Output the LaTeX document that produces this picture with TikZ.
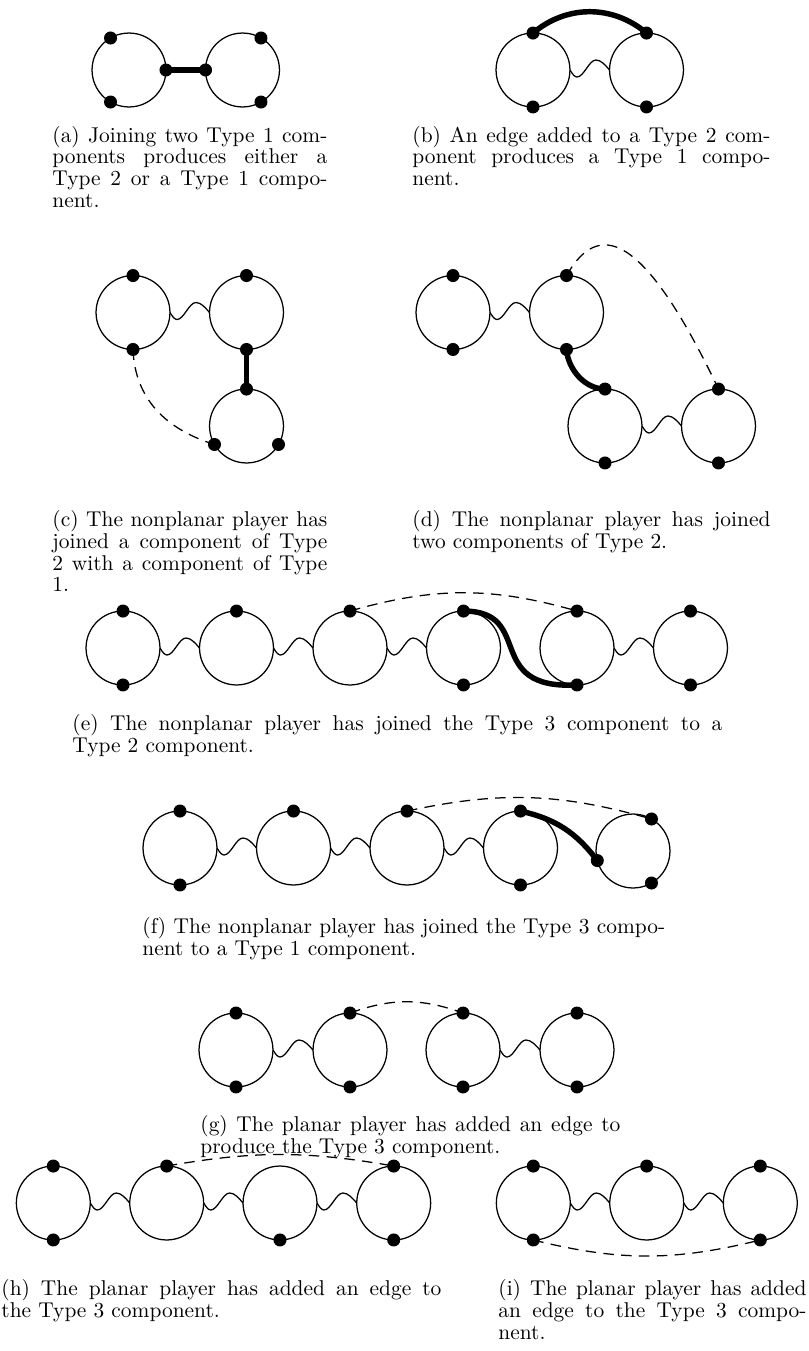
\documentclass[tikz,border=0pt]{standalone}
\usetikzlibrary{calc}
\tikzset{
  ring/.style={circle, draw, line width=0.6pt, minimum size=35.2pt, inner sep=0pt, outer sep=0pt},
  dot/.style={circle, fill, minimum size=6.2pt, inner sep=0pt},
  wig/.style={line width=0.6pt},
  thk/.style={line width=2.6pt},
  dsh/.style={line width=0.6pt, dash pattern=on 5pt off 3.5pt},
  captxt/.style={anchor=north west, inner sep=0pt, align=justify, yshift=7.65pt, font=\fontsize{10.2}{10.38}\selectfont},
}
\newcommand{\wiggle}[2]{\draw[wig] (#1.east) sin ++(7,-7) cos ++(9.5,8.5) sin ++(9.5,8.5) cos (#2.west);}
\begin{document}
\begin{tikzpicture}[x=0.47619pt,y=0.47619pt]
\useasboundingbox (0,0) rectangle (809,-1351);
% ---------- (a)
\node[ring] (a1) at (129,-70) {};
\node[ring] (a2) at (242.5,-70) {};
\draw[thk] (a1.0) -- (a2.180);
\foreach \n/\a in {a1/120,a1/0,a1/240,a2/60,a2/180,a2/300}{\node[dot] (\n d\a) at (\n.\a) {};}
\node[captxt, text width=130.95pt] (capa) at (52,-141.7) {(a) Joining two Type 1 com-\linebreak ponents produces either a\linebreak Type 2 or a Type 1 compo-\linebreak nent.};
% ---------- (b)
\node[ring] (b1) at (533,-70) {};
\node[ring] (b2) at (646.5,-70) {};
\wiggle{b1}{b2}
\draw[thk] (b1.90) to[out=40,in=140] (b2.90);
\foreach \n/\a in {b1/90,b1/270,b2/90,b2/270}{\node[dot] (\n d\a) at (\n.\a) {};}
\node[captxt, text width=170.5pt] (capb) at (412,-141.7) {(b) An edge added to a Type 2 com-\linebreak ponent produces a Type 1 compo-\linebreak nent.};
% ---------- (c)
\node[ring] (c1) at (133,-312.5) {};
\node[ring] (c2) at (246.5,-312.5) {};
\node[ring] (c3) at (246.5,-426) {};
\wiggle{c1}{c2}
\draw[thk] (c2.270) -- (c3.90);
\draw[dsh] (c1.270) .. controls +(2,-50) and +(-48,15) .. (c3.210);
\foreach \n/\a in {c1/90,c1/270,c2/90,c2/270,c3/90,c3/210,c3/330}{\node[dot] (\n d\a) at (\n.\a) {};}
\node[captxt, text width=130.95pt] (capc) at (52,-526) {(c) The nonplanar player has\linebreak joined a component of Type\linebreak 2 with a component of Type\linebreak 1.};
% ---------- (d)
\node[ring] (d1) at (453,-312.5) {};
\node[ring] (d2) at (566.5,-312.5) {};
\node[ring] (d3) at (605,-426) {};
\node[ring] (d4) at (718.5,-426) {};
\wiggle{d1}{d2}
\wiggle{d3}{d4}
\draw[thk] (d2.270) .. controls +(1.5,-20) and +(-20,0) .. (d3.90);
\draw[dsh] (d2.90) .. controls +(31.5,55) and +(-76.5,160) .. (d4.90);
\foreach \n/\a in {d1/90,d1/270,d2/90,d2/270,d3/90,d3/270,d4/90,d4/270}{\node[dot] (\n d\a) at (\n.\a) {};}
\node[captxt, text width=170.5pt] (capd) at (412,-526) {(d) The nonplanar player has joined\linebreak two components of Type 2.};
% ---------- (e)
\foreach \i/\x in {1/123,2/236.5,3/350,4/463.5,5/577,6/690.5}{\node[ring] (e\i) at (\x,-648) {};}
\wiggle{e1}{e2}
\wiggle{e2}{e3}
\wiggle{e3}{e4}
\wiggle{e5}{e6}
\draw[dsh] (e3.90) to[bend left=16] (e5.90);
\draw[thk] (e4.90) .. controls +(72,0) and +(-95,-5) .. (e5.270);
\foreach \n/\a in {e1/90,e1/270,e2/90,e3/90,e4/90,e4/270,e5/90,e5/270,e6/90,e6/270}{\node[dot] (\n d\a) at (\n.\a) {};}
\node[captxt, text width=309.5pt] (cape) at (72,-730) {(e) The nonplanar player has joined the Type 3 component to a\linebreak Type 2 component.};
% ---------- (f)
\foreach \i/\x in {1/180,2/293.5,3/407,4/520.5}{\node[ring] (f\i) at (\x,-848) {};}
\node[ring] (f5) at (633,-851) {};
\wiggle{f1}{f2}
\wiggle{f2}{f3}
\wiggle{f3}{f4}
\draw[dsh] (f3.90) to[bend left=14] (f5.60);
\draw[thk] (f4.90) to[bend left=20] (f5.195);
\foreach \n/\a in {f1/90,f1/270,f2/90,f3/90,f4/90,f4/270,f5/60,f5/195,f5/300}{\node[dot] (\n d\a) at (\n.\a) {};}
\node[captxt, text width=249pt] (capf) at (142,-933) {(f) The nonplanar player has joined the Type 3 compo-\linebreak nent to a Type 1 component.};
% ---------- (g)
\foreach \i/\x in {1/236,2/350,3/463,4/577}{\node[ring] (g\i) at (\x,-1050) {};}
\wiggle{g1}{g2}
\wiggle{g3}{g4}
\draw[dsh] (g2.90) to[bend left=20] (g3.90);
\foreach \n/\a in {g1/90,g1/270,g2/90,g2/270,g3/90,g3/270,g4/90,g4/270}{\node[dot] (\n d\a) at (\n.\a) {};}
\node[captxt, text width=200pt] (capg) at (200,-1131) {(g) The planar player has added an edge to\linebreak produce the Type 3 component.};
% ---------- (h)
\foreach \i/\x in {1/53.3,2/166.7,3/280,4/393.7}{\node[ring] (h\i) at (\x,-1203) {};}
\wiggle{h1}{h2}
\wiggle{h2}{h3}
\wiggle{h3}{h4}
\draw[dsh] (h2.90) to[bend left=10] (h4.90);
\foreach \n/\a in {h1/90,h1/270,h2/90,h3/270,h4/90,h4/270}{\node[dot] (\n d\a) at (\n.\a) {};}
\node[captxt, text width=209.5pt] (caph) at (1,-1295) {(h) The planar player has added an edge to\linebreak the Type 3 component.};
% ---------- (i)
\foreach \i/\x in {1/533.3,2/646.7,3/760.3}{\node[ring] (i\i) at (\x,-1203) {};}
\wiggle{i1}{i2}
\wiggle{i2}{i3}
\draw[dsh] (i1.270) to[bend right=14] (i3.270);
\foreach \n/\a in {i1/90,i1/270,i2/90,i3/90,i3/270}{\node[dot] (\n d\a) at (\n.\a) {};}
\node[captxt, text width=146.7pt] (capi) at (498,-1295) {(i) The planar player has added\linebreak an edge to the Type 3 compo-\linebreak nent.};
\end{tikzpicture}
\end{document}
